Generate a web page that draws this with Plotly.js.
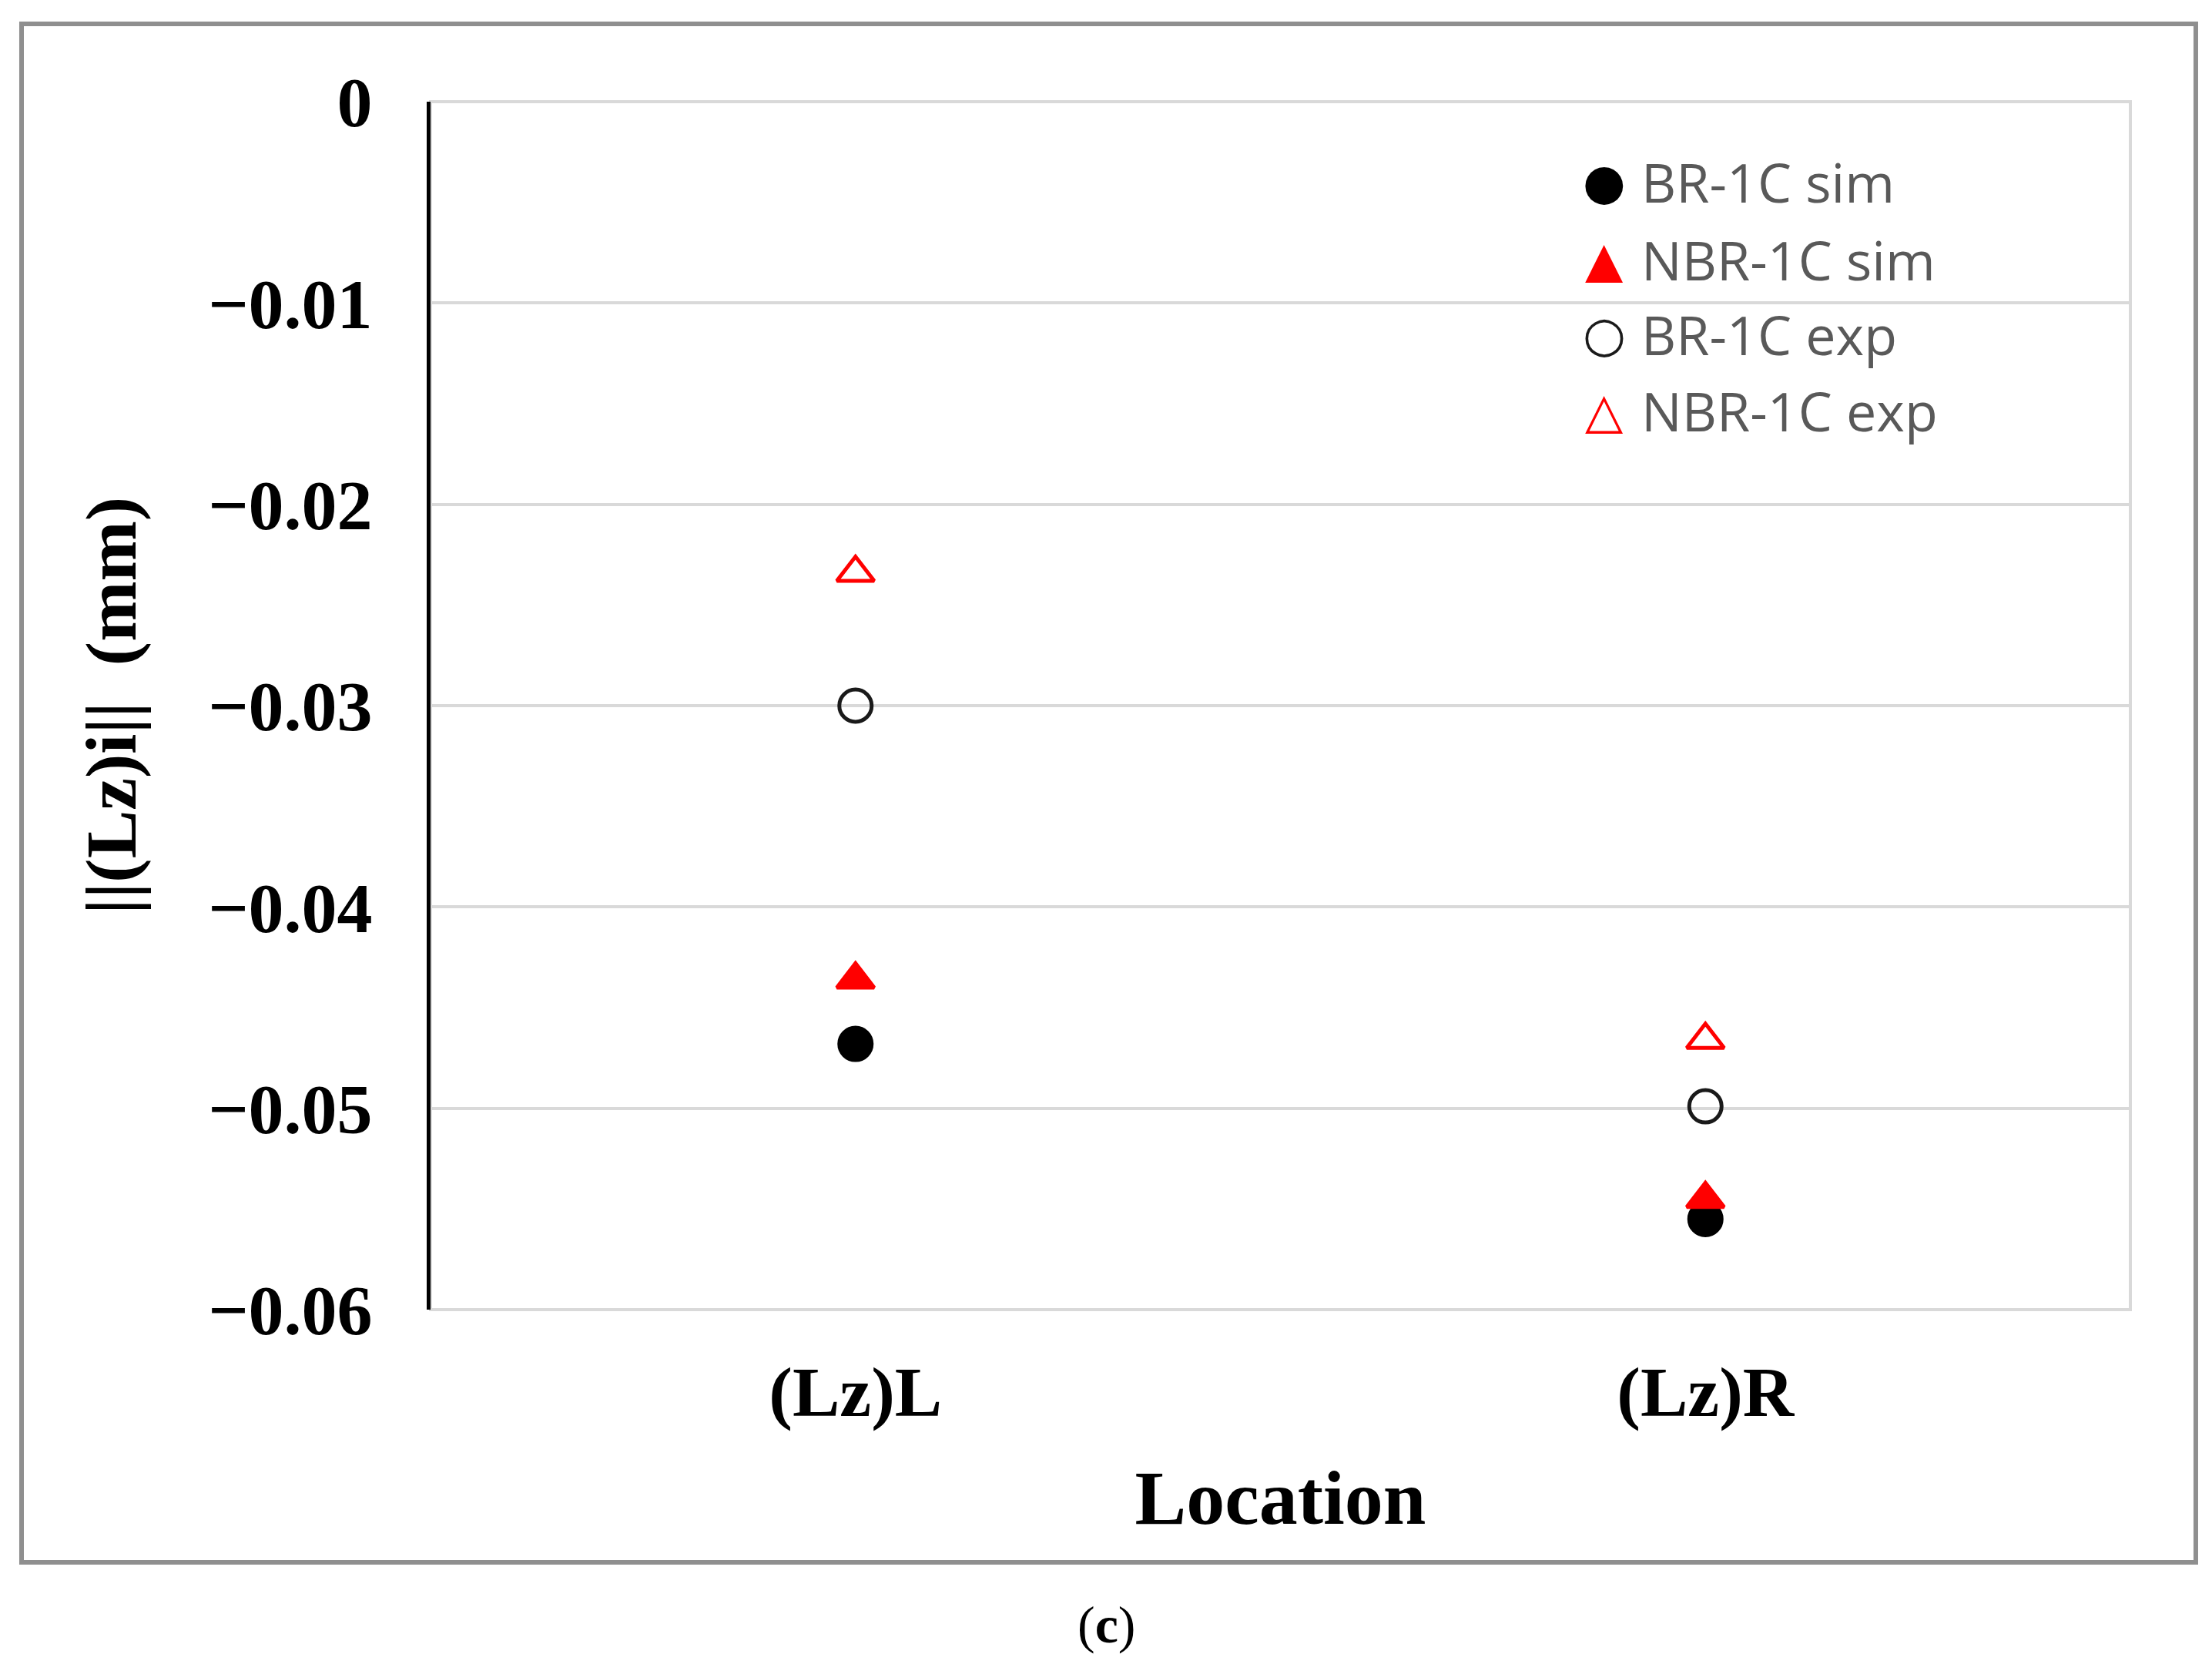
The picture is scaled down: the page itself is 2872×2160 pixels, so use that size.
<!DOCTYPE html>
<html>
<head>
<meta charset="utf-8">
<script src="https://cdn.plot.ly/plotly-3.0.1.min.js"></script>
<style>
  html, body { margin: 0; padding: 0; background: #ffffff; }
  #chart { width: 2872px; height: 2160px; }
</style>
</head>
<body>
<div id="chart"></div>
<script>
// values (mm)
const locations = ['(Lz)L', '(Lz)R'];
const brSim = [-0.0468, -0.0555];
const nbrSim = [-0.0436, -0.0545];
const brExp = [-0.0300, -0.0499];
const nbrExp = [-0.0234, -0.0466];

const seriesNames = ['BR-1C sim', 'NBR-1C sim', 'BR-1C exp', 'NBR-1C exp'];
const legendGlyphs = ['\u25CF', '\u25B2', '\u25CB', '\u25B3'];
const legendColors = ['#000000', '#ff0000', '#1a1a1a', '#ff0000'];

const yTicks = [0, -0.01, -0.02, -0.03, -0.04, -0.05, -0.06];

const serif = 'Liberation Serif, Times New Roman, serif';
const sans = 'Open Sans, DejaVu Sans, sans-serif';

function makeTrace(values, name, symbol, color, lineColor) {
	return {
		x: locations,
		y: values,
		type: 'scatter',
		mode: 'markers',
		name: name,
		marker: {
			symbol: symbol,
			size: 42,
			color: color,
			line: { color: lineColor, width: 5 },
		},
		hoverinfo: 'x+y+name',
	};
}

const data = [
	makeTrace(brSim, seriesNames[0], 'circle', '#000000', '#000000'),
	makeTrace(nbrSim, seriesNames[1], 'triangle-up', '#ff0000', '#ff0000'),
	makeTrace(brExp, seriesNames[2], 'circle-open', '#1a1a1a', '#1a1a1a'),
	makeTrace(nbrExp, seriesNames[3], 'triangle-up-open', '#ff0000', '#ff0000'),
];

// hand-made legend so the symbols keep the size of the plotted markers
const legendRowsY = [0.9337, 0.8693, 0.8074, 0.7443];
const annotations = [];
seriesNames.forEach((name, i) => {
	annotations.push({
		xref: 'paper', yref: 'paper',
		x: 0.6905, y: legendRowsY[i],
		xanchor: 'center', yanchor: 'middle',
		text: legendGlyphs[i],
		showarrow: false,
		font: { family: 'DejaVu Sans', size: 64, color: legendColors[i] },
	});
	annotations.push({
		xref: 'paper', yref: 'paper',
		x: 0.7112, y: legendRowsY[i],
		xanchor: 'left', yanchor: 'middle',
		text: name,
		showarrow: false,
		font: { family: sans, size: 70, color: '#595959' },
	});
});

// figure caption
annotations.push({
	xref: 'paper', yref: 'paper',
	x: 0.398, y: -0.2606,
	xanchor: 'center', yanchor: 'middle',
	text: '(<b>c</b>)',
	showarrow: false,
	font: { family: serif, size: 68, color: '#000000' },
});

const layout = {
	width: 2872,
	height: 2160,
	margin: { l: 559, r: 106, t: 132, b: 460 },
	paper_bgcolor: '#ffffff',
	plot_bgcolor: '#ffffff',
	showlegend: false,
	xaxis: {
		type: 'category',
		range: [-0.5, 1.5],
		showgrid: false,
		zeroline: false,
		showline: false,
		ticks: '',
		ticklabelstandoff: 45,
		tickfont: { family: serif, size: 92, color: '#000000', weight: 'bold' },
		title: {
			text: 'Location',
			standoff: 50,
			font: { family: serif, size: 100, color: '#000000', weight: 'bold' },
		},
	},
	yaxis: {
		range: [-0.06, 0],
		tickvals: yTicks,
		showgrid: true,
		gridcolor: '#d9d9d9',
		gridwidth: 4,
		zeroline: false,
		showline: true,
		linecolor: '#000000',
		linewidth: 5,
		ticks: '',
		ticklabelstandoff: 52,
		tickfont: { family: serif, size: 92, color: '#000000', weight: 'bold' },
		title: {
			text: '||(Lz)i||\u00a0\u00a0(mm)',
			standoff: 64,
			font: { family: serif, size: 94, color: '#000000', weight: 'bold' },
		},
	},
	shapes: [
		{
			type: 'rect', xref: 'paper', yref: 'paper',
			x0: 0, x1: 1, y0: 0, y1: 1,
			line: { color: '#d9d9d9', width: 4 },
			layer: 'below',
		},
		{
			type: 'rect', xref: 'paper', yref: 'paper',
			x0: -0.2406, x1: 1.0385, y0: -0.2092, y1: 1.0644,
			line: { color: '#8f8f8f', width: 6 },
			layer: 'below',
		},
	],
	annotations: annotations,
};

const config = { displayModeBar: false, staticPlot: true };
Plotly.newPlot('chart', data, layout, config);
</script>
</body>
</html>
